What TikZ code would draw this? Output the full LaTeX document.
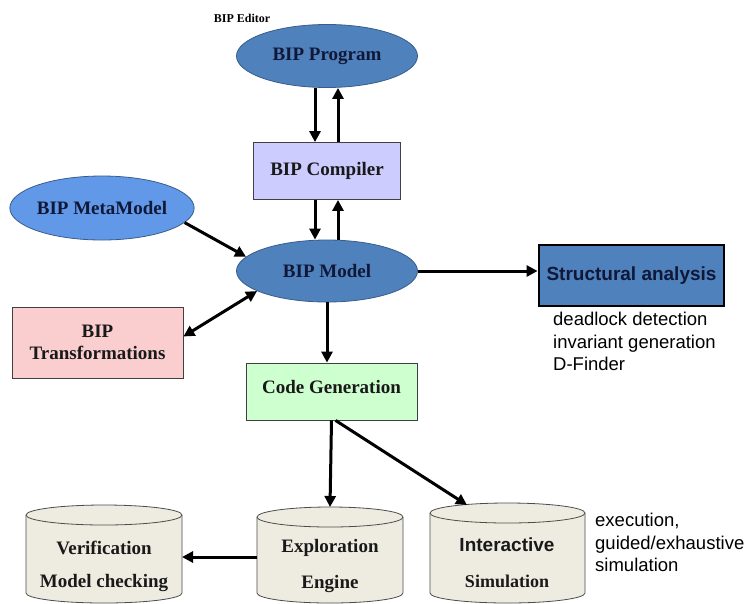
\documentclass[tikz,border=0pt]{standalone}
\usepackage{fontspec}
\setmainfont{Liberation Serif}
\setsansfont{Liberation Sans}
\usetikzlibrary{arrows.meta,shapes.geometric,calc}
\definecolor{stblue}{RGB}{79,129,189}
\definecolor{stedge}{RGB}{56,93,138}
\definecolor{metablue}{RGB}{98,152,232}
\definecolor{lav}{RGB}{204,204,255}
\definecolor{pinkf}{RGB}{250,206,206}
\definecolor{greenf}{RGB}{206,255,206}
\definecolor{beige}{RGB}{238,236,225}
\definecolor{navytxt}{RGB}{16,24,56}
\newcommand\mycyl[4]{%
  \pgfmathsetmacro\myrx{(#2-#1)/2}%
  \filldraw[cylst] (#1,-#3-10) -- (#1,-#4+10)
     arc[start angle=180,end angle=360,x radius=\myrx pt,y radius=10pt]
     -- (#2,-#3-10)
     arc[start angle=0,end angle=180,x radius=\myrx pt,y radius=10pt] -- cycle;
  \draw[cylst] (#1,-#3-10) arc[start angle=180,end angle=360,x radius=\myrx pt,y radius=10pt];
}
\tikzset{
  ell/.style={ellipse,draw=stedge,line width=0.8pt,fill=stblue,inner sep=0pt,
    font=\fontsize{19}{20}\selectfont\bfseries,text=navytxt},
  boxst/.style={rectangle,draw=black!75,line width=0.8pt,inner sep=0pt,
    font=\fontsize{19}{22}\selectfont\bfseries,text=black!90,align=center},
  cylst/.style={draw=black!70,line width=0.8pt,fill=beige},
  cyltxt/.style={font=\fontsize{19}{20}\selectfont\bfseries,text=black!90,inner sep=0pt},
  desc/.style={font=\sffamily\fontsize{18.5}{22.5}\selectfont,align=left,anchor=north west,inner sep=0pt},
  arr/.style={line width=3pt,-{Triangle[length=11pt,width=11pt]}},
  darr/.style={line width=3pt,{Triangle[length=11pt,width=11pt]}-{Triangle[length=11pt,width=11pt]}},
}
\begin{document}
\begin{tikzpicture}[x=1pt,y=1pt]
\useasboundingbox[fill=white] (0,0) rectangle (751,-603);

\node[font=\fontsize{12}{14}\selectfont\bfseries] (editor) at (242,-18) {BIP Editor};
\node[ell,minimum width=181pt,minimum height=63pt] (prog) at (327,-56) {BIP Program};
\node[boxst,fill=lav,minimum width=147pt,minimum height=57pt] (comp) at (327,-171) {BIP Compiler};
\node[ell,fill=metablue,minimum width=180pt,minimum height=64pt] (meta) at (102,-208) {BIP MetaModel};
\node[ell,minimum width=181pt,minimum height=62pt] (model) at (327,-271) {BIP Model};
\node[rectangle,draw=black,line width=2.8pt,fill=stblue,minimum width=185pt,minimum height=61pt,
  font=\sffamily\fontsize{19}{20}\selectfont\bfseries,text=navytxt,inner sep=0pt] (struct) at (631.5,-275.5) {Structural analysis};
\node[desc] (sdesc) at (553,-312) {deadlock detection\\invariant generation\\D-Finder};
\node[boxst,fill=pinkf,minimum width=171pt,minimum height=71pt] (trans) at (97.5,-342.5) {BIP\\Transformations};
\node[boxst,fill=greenf,minimum width=171pt,minimum height=57pt] (code) at (331.5,-391.5) {\raisebox{9pt}{Code Generation}};

\mycyl{26}{182}{505}{603}
\mycyl{257}{403}{507}{603}
\mycyl{430}{585}{503}{603}
\coordinate (verR) at (182,-557);
\coordinate (explL) at (257,-557);
\coordinate (explT) at (330,-507);
\coordinate (interT) at (467,-505);
\node[cyltxt] (ver1) at (104,-548) {Verification};
\node[cyltxt] (ver2) at (104,-583) {Model checking};
\node[cyltxt] (exp1) at (330,-548) {Exploration};
\node[cyltxt] (exp2) at (330,-584) {Engine};
\node[cyltxt,font=\sffamily\fontsize{19}{20}\selectfont\bfseries] (int1) at (507,-545) {Interactive};
\node[cyltxt,font=\fontsize{18}{20}\selectfont\bfseries] (int2) at (507,-581) {Simulation};
\node[desc] (idesc) at (595,-513) {execution,\\guided/exhaustive\\simulation};

% connectors
\draw[arr] ([xshift=-12pt]prog.south) -- ([xshift=-12pt]prog.south |- comp.north);
\draw[arr] ([xshift=11pt]comp.north) -- ([xshift=11pt]comp.north |- prog.south);
\draw[arr] ([xshift=-12pt]comp.south) -- ([xshift=-12pt]comp.south |- model.north);
\draw[arr] ([xshift=11pt]model.north) -- ([xshift=11pt]model.north |- comp.south);
\draw[arr] (meta.-10) -- (model.170);
\draw[darr] (model.196) -- ([yshift=6pt]trans.east);
\draw[arr] (model.east) -- (model.east -| struct.west);
\draw[arr] (model.south) -- (model.south |- code.north);
\draw[arr] (code.south) -- (explT);
\draw[arr] ([xshift=4pt]code.south) -- (interT);
\draw[arr] (explL) -- (verR);
\end{tikzpicture}
\end{document}
